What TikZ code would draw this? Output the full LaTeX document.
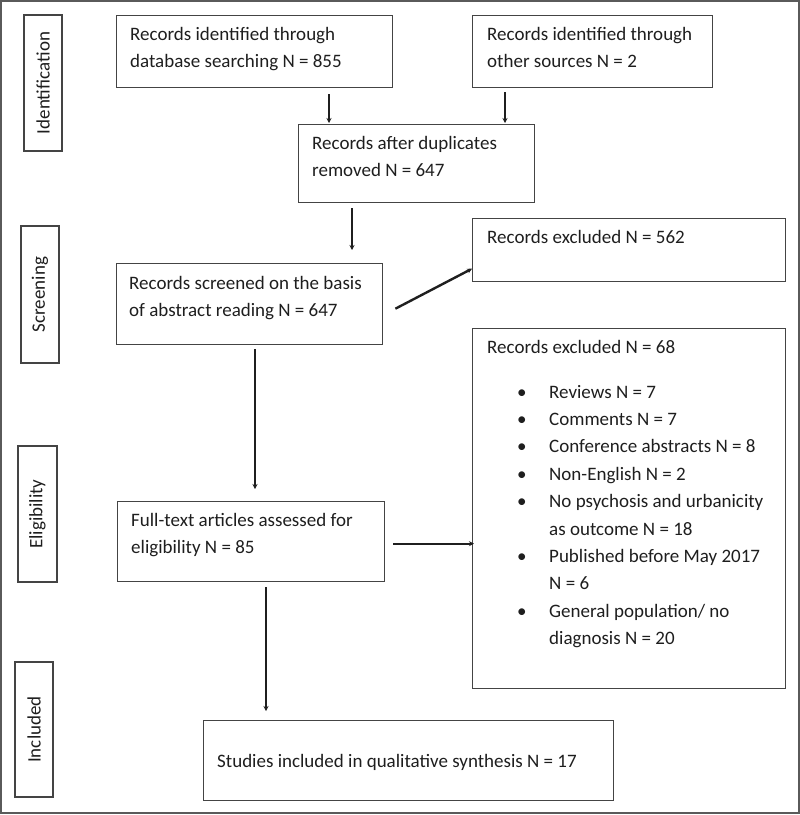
\documentclass[tikz,border=0pt]{standalone}
\usepackage{fontspec}
\setmainfont{Carlito}
\usetikzlibrary{arrows.meta}
\definecolor{boxline}{HTML}{444444}
\definecolor{frameline}{HTML}{5A5A5A}
\definecolor{txtc}{HTML}{1E1E1E}
\begin{document}
\begin{tikzpicture}[x=1pt,y=-1pt,
  box/.style={draw=boxline, line width=1.4pt, anchor=north west, inner sep=0pt},
  stage/.style={draw=boxline, line width=1.4pt, rotate=90, inner sep=0pt, text=txtc,
    font=\fontsize{19}{27}\selectfont},
  txt/.style={anchor=north west, inner sep=0pt, align=left, text=txtc,
    font=\fontsize{19}{27}\selectfont},
  flow/.style={-{Stealth[length=5pt,width=5pt]}, line width=2.4pt, draw=black!88}]
\useasboundingbox (0,0) rectangle (800,815);
\draw[frameline, line width=2pt] (1,1) rectangle (798.5,813) node[coordinate] (frame) {};

% stage labels
\node[stage, minimum width=136pt, minimum height=38pt] (sid) at (43,83) {Identification};
\node[stage, minimum width=137pt, minimum height=38pt] (sscr) at (40,294.5) {Screening};
\node[stage, minimum width=136pt, minimum height=39pt] (selig) at (37.5,514) {Eligibility};
\node[stage, minimum width=135pt, minimum height=38pt] (sinc) at (34,729.5) {Included};

% boxes
\node[box, minimum width=276pt, minimum height=72pt] (A) at (116,15) {};
\node[box, minimum width=240pt, minimum height=72pt] (B) at (472,15) {};
\node[box, minimum width=236pt, minimum height=78pt] (C) at (298,124) {};
\node[box, minimum width=266pt, minimum height=81pt] (D) at (116,263) {};
\node[box, minimum width=313pt, minimum height=63pt] (E) at (472,218) {};
\node[box, minimum width=313pt, minimum height=360pt] (F) at (472,328) {};
\node[box, minimum width=267pt, minimum height=80pt] (G) at (117,501) {};
\node[box, minimum width=410pt, minimum height=80pt] (H) at (203,720) {};

% texts
\node[txt] (tA) at ([xshift=14pt,yshift=-6.1pt]A.north west) {\strut Records identified through\\database searching N = 855};
\node[txt] (tB) at ([xshift=15pt,yshift=-6.1pt]B.north west) {\strut Records identified through\\other sources N = 2};
\node[txt] (tC) at ([xshift=14pt,yshift=-6.1pt]C.north west) {\strut Records after duplicates\\removed N = 647};
\node[txt] (tD) at ([xshift=13pt,yshift=-7.1pt]D.north west) {\strut Records screened on the basis\\of abstract reading N = 647};
\node[txt] (tE) at ([xshift=15pt,yshift=-6pt]E.north west) {\strut Records excluded N = 562};
\node[txt, font=\fontsize{19}{27.4}\selectfont] (tF) at ([xshift=15pt,yshift=-5.8pt]F.north west) {%
\begin{tabular}{@{}p{62pt}@{}l@{}}
\multicolumn{2}{@{}l@{}}{Records excluded N = 68}\\[17.6pt]
\hspace*{30pt}• & Reviews N = 7\\
\hspace*{30pt}• & Comments N = 7\\
\hspace*{30pt}• & Conference abstracts N = 8\\
\hspace*{30pt}• & Non-English N = 2\\
\hspace*{30pt}• & No psychosis and urbanicity\\
 & as outcome N = 18\\
\hspace*{30pt}• & Published before May 2017\\
 & N = 6\\
\hspace*{30pt}• & General population/ no\\
 & diagnosis N = 20
\end{tabular}};
\node[txt] (tG) at ([xshift=14pt,yshift=-6pt]G.north west) {\strut Full-text articles assessed for\\eligibility N = 85};
\node[txt] (tH) at ([xshift=14pt,yshift=-28pt]H.north west) {\strut Studies included in qualitative synthesis N = 17};

% connectors
\draw[flow, shorten >=1pt] ([xshift=213pt,yshift=-6pt]A.south west) -- ([xshift=213pt]A.south west |- C.north);
\draw[flow, shorten >=1pt] ([xshift=33pt,yshift=-4pt]B.south west) -- ([xshift=33pt]B.south west |- C.north);
\draw[flow, shorten >=13pt] ([xshift=54pt,yshift=-5pt]C.south west) -- ([xshift=54pt]C.south west |- D.north);
\draw[flow] ([xshift=12pt,yshift=-4.5pt]D.east) -- ([yshift=-18.5pt]E.west);
\draw[flow, shorten >=12pt] ([xshift=139pt,yshift=-4pt]D.south west) -- ([xshift=139pt]D.south west |- G.north);
\draw[flow, shorten >=6pt] ([xshift=8pt,yshift=-2pt]G.east) -- ([xshift=8pt,yshift=-2pt]G.east -| F.west);
\draw[flow, shorten >=9pt] ([xshift=149pt,yshift=-5pt]G.south west) -- ([xshift=149pt]G.south west |- H.north);
\end{tikzpicture}
\end{document}
